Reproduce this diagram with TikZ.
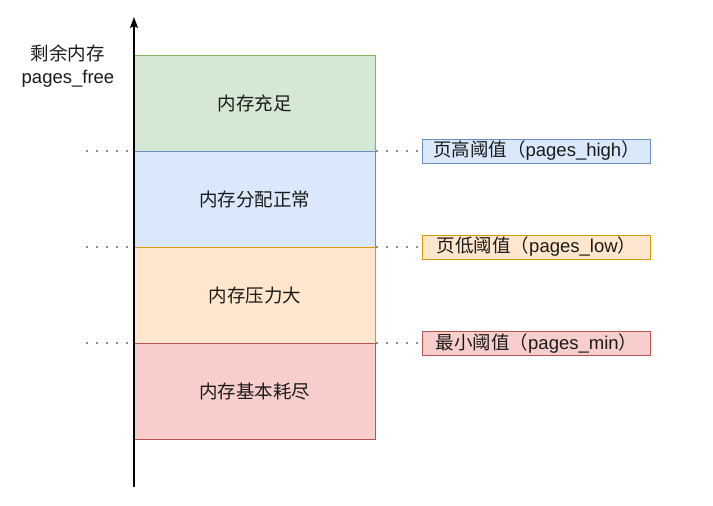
\documentclass[tikz,border=0pt]{standalone}
\usepackage{fontspec}
\setmainfont{Noto Sans CJK SC}
\newfontfamily\latf{Liberation Sans}
\usetikzlibrary{arrows.meta}
\definecolor{gfill}{HTML}{D5E8D4}\definecolor{gline}{HTML}{82B366}
\definecolor{bfill}{HTML}{DAE8FC}\definecolor{bline}{HTML}{6C8EBF}
\definecolor{ofill}{HTML}{FFE6CC}\definecolor{oline}{HTML}{D79B00}
\definecolor{rfill}{HTML}{F8CECC}\definecolor{rline}{HTML}{B85450}
\definecolor{txt}{HTML}{1A1A1A}
\tikzset{
  band/.style={draw=#1line, fill=#1fill, line width=0.9pt, minimum width=241pt, minimum height=96pt, inner sep=0pt, text=txt, font=\fontsize{18.5}{21}\selectfont, anchor=north west},
  lbl/.style={draw=#1line, fill=#1fill, line width=0.9pt, minimum width=228pt, minimum height=24pt, inner sep=0pt, text=txt, font=\fontsize{18.5}{21}\selectfont, anchor=west},
  dots/.style={line width=2.2pt, dash pattern=on 0pt off 10pt, line cap=round, color=black!60},
}
\begin{document}
\begin{tikzpicture}[x=1pt,y=-1pt]
\useasboundingbox (0,0) rectangle (713,506);
\node[band=g] (g) at (134,55) {内存充足};
\node[band=b] (b) at (134,151) {内存分配正常};
\node[band=o] (o) at (134,247) {内存压力大};
\node[band=r] (r) at (134,343) {内存基本耗尽};
\coordinate (ax0) at (134,487);
\coordinate (ax1) at (134,17);
\draw[line width=1.1pt, -{Stealth[length=11pt,width=8pt,inset=2pt]}] (ax0) -- (ax1);
\node[text=txt, font=\fontsize{18.5}{23}\selectfont, align=center, inner sep=0pt] (ylab) at (68,66) {剩余内存\\{\latf pages\_free}};
\node[lbl=b] (lh) at (422,151) {页高阈值（{\latf pages\_high}）};
\node[lbl=o] (ll) at (422,247) {页低阈值（{\latf pages\_low}）};
\node[lbl=r] (lm) at (422,343) {最小阈值（{\latf pages\_min}）};
\coordinate (dl1) at (87,151);\coordinate (dl2) at (87,247);\coordinate (dl3) at (87,343);
\draw[dots] (dl1) -- ([xshift=-6pt]b.north west);
\draw[dots] (dl2) -- ([xshift=-6pt]o.north west);
\draw[dots] (dl3) -- ([xshift=-6pt]r.north west);
\draw[dots] ([xshift=1pt]b.north east) -- (lh.west);
\draw[dots] ([xshift=1pt]o.north east) -- (ll.west);
\draw[dots] ([xshift=1pt]r.north east) -- (lm.west);
\end{tikzpicture}
\end{document}
